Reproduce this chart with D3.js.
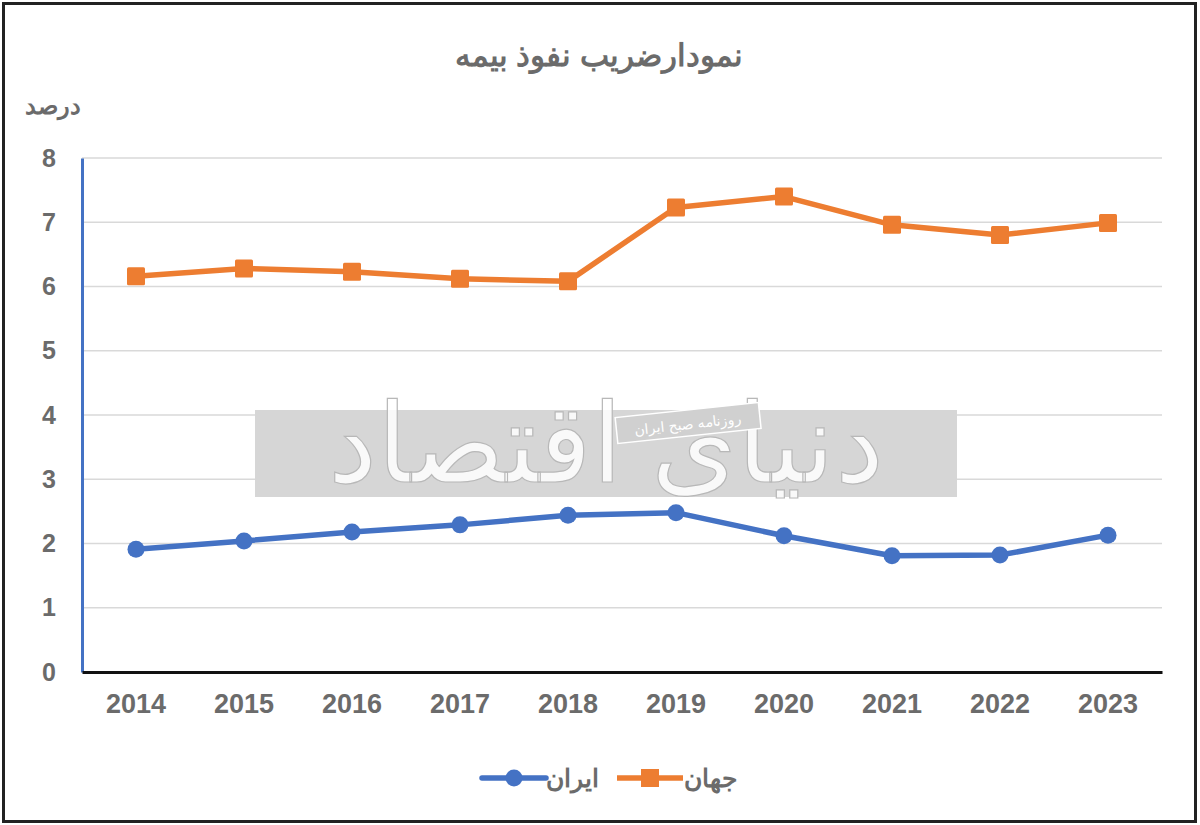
<!DOCTYPE html>
<html><head><meta charset="utf-8">
<script src="https://cdn.jsdelivr.net/npm/d3@7"></script>
<style>body{margin:0;background:#fff}svg{display:block}</style>
</head><body>
<svg id="c" width="1200" height="825"></svg>
<script>
const years = ["2014","2015","2016","2017","2018","2019","2020","2021","2022","2023"];
const iran = [1.91,2.04,2.18,2.29,2.44,2.48,2.12,1.81,1.82,2.13];
const world = [6.16,6.28,6.23,6.12,6.08,7.23,7.40,6.96,6.80,6.99];
const yTicks = [0,1,2,3,4,5,6,7,8];
const title = "نمودارضریب نفوذ بیمه";
const yLabel = "درصد";
const seriesNames = ["ایران","جهان"];

const svg = d3.select("#c");
const font = "'Liberation Sans', Arial, sans-serif";
const gray = "#6b6b6b";
const blue = "#4472c4", orange = "#ed7d31";

svg.append("rect").attr("x",3.5).attr("y",3.5).attr("width",1192).attr("height",818)
  .attr("fill","#fff").attr("stroke","#222").attr("stroke-width",3);

const x = d3.scaleBand().domain(years).range([82,1162]);
const y = d3.scaleLinear().domain([0,8]).range([672,158]);

// gridlines
svg.append("g").selectAll("line").data(yTicks.filter(d=>d>0)).join("line")
  .attr("x1",82).attr("x2",1162).attr("y1",d=>y(d)).attr("y2",d=>y(d))
  .attr("stroke","#d9d9d9").attr("stroke-width",1.5);

// watermark
const wm = svg.append("g");
wm.append("rect").attr("x",255).attr("y",410).attr("width",702).attr("height",87).attr("fill","#d6d6d6");
wm.append("text").attr("x",606).attr("y",482).attr("text-anchor","middle")
  .attr("font-family","'Noto Sans', 'DejaVu Sans', sans-serif").attr("font-size",110).attr("font-weight","300")
  .attr("fill","#fff").attr("fill-opacity",0.85).attr("stroke","#b8b8b8").attr("stroke-width",1.2)
  .text("دنیای اقتصاد");
const sb = wm.append("g").attr("transform","translate(688,422) rotate(-6)");
sb.append("rect").attr("x",-72).attr("y",-12).attr("width",144).attr("height",26).attr("fill","#d0d0d0").attr("stroke","#fff").attr("stroke-width",1.5);
sb.append("text").attr("x",0).attr("y",7).attr("text-anchor","middle").attr("font-family",font)
  .attr("font-size",14).attr("fill","#fff").text("روزنامه صبح ایران");

// axes
const yAxis = svg.append("g").attr("transform","translate(82,0)")
  .call(d3.axisLeft(y).tickValues(yTicks).tickSize(0).tickPadding(26));
yAxis.select(".domain").attr("stroke",blue).attr("stroke-width",3);
yAxis.selectAll("text").attr("font-family",font).attr("font-size",25).attr("font-weight","bold").attr("fill",gray);

const xAxis = svg.append("g").attr("transform","translate(0,672)")
  .call(d3.axisBottom(x).tickSize(0).tickPadding(22));
xAxis.select(".domain").attr("stroke","#111").attr("stroke-width",3);
xAxis.selectAll("text").attr("font-family",font).attr("font-size",27).attr("font-weight","bold").attr("fill",gray);

const cx = d => x(d) + x.bandwidth()/2;
const line = d3.line().x((d,i)=>cx(years[i])).y(d=>y(d));

svg.append("path").datum(world).attr("d",line).attr("fill","none").attr("stroke",orange).attr("stroke-width",5.5).attr("stroke-linejoin","round");
svg.append("path").datum(iran).attr("d",line).attr("fill","none").attr("stroke",blue).attr("stroke-width",5.5).attr("stroke-linejoin","round");

svg.append("g").selectAll("rect").data(world).join("rect")
  .attr("x",(d,i)=>cx(years[i])-9).attr("y",d=>y(d)-9).attr("width",18).attr("height",18).attr("rx",1.5).attr("fill",orange);
svg.append("g").selectAll("circle").data(iran).join("circle")
  .attr("cx",(d,i)=>cx(years[i])).attr("cy",d=>y(d)).attr("r",8.5).attr("fill",blue);

// title and y label
svg.append("text").attr("x",599).attr("y",66).attr("text-anchor","middle").attr("font-family",font)
  .attr("font-size",31).attr("font-weight","bold").attr("fill",gray).text(title);
svg.append("text").attr("x",53).attr("y",114).attr("text-anchor","middle").attr("font-family",font)
  .attr("font-size",24).attr("font-weight","bold").attr("fill",gray).text(yLabel);

// legend
const ly = 778;
const lg = svg.append("g");
lg.append("line").attr("x1",482).attr("x2",546).attr("y1",ly).attr("y2",ly).attr("stroke",blue).attr("stroke-width",5.5).attr("stroke-linecap","round");
lg.append("circle").attr("cx",514).attr("cy",ly).attr("r",8.5).attr("fill",blue);
lg.append("text").attr("x",599).attr("y",ly+9).attr("text-anchor","end").attr("font-family",font)
  .attr("font-size",25).attr("font-weight","bold").attr("fill",gray).text(seriesNames[0]);
lg.append("line").attr("x1",617).attr("x2",683).attr("y1",ly).attr("y2",ly).attr("stroke",orange).attr("stroke-width",5.5);
lg.append("rect").attr("x",641).attr("y",ly-9).attr("width",18).attr("height",18).attr("fill",orange);
lg.append("text").attr("x",737).attr("y",ly+9).attr("text-anchor","end").attr("font-family",font)
  .attr("font-size",25).attr("font-weight","bold").attr("fill",gray).text(seriesNames[1]);
</script>
</body></html>
